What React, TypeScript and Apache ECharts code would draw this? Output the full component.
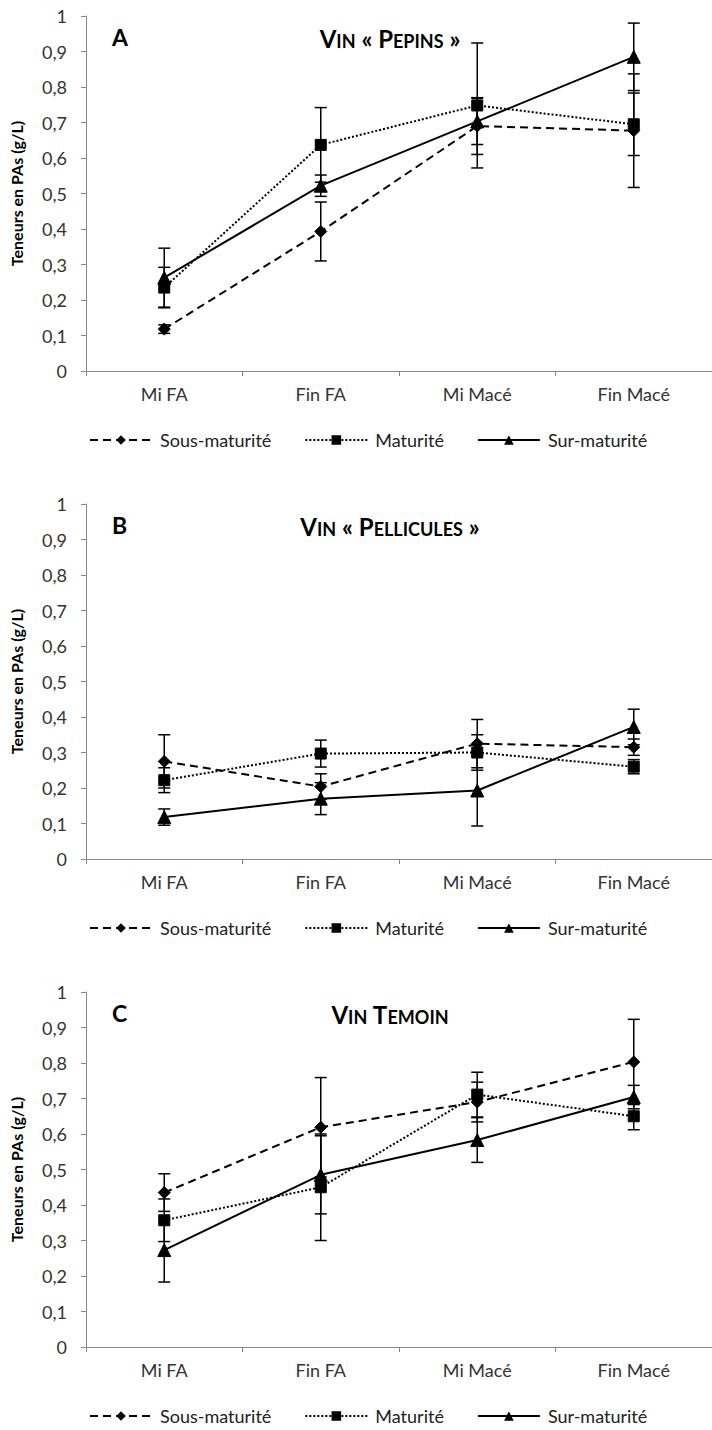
import React, { useEffect, useRef } from 'react';
import * as echarts from 'echarts';

const categories = ['Mi FA', 'Fin FA', 'Mi Macé', 'Fin Macé'];
const seriesNames = ['Sous-maturité', 'Maturité', 'Sur-maturité'];

// Panel A — Vin « Pepins »
const pepinsSous = [0.118, 0.393, 0.69, 0.677];
const pepinsSousErr = [0.012, 0.083, 0.08, 0.16];
const pepinsMat = [0.235, 0.637, 0.748, 0.695];
const pepinsMatErr = [0.057, 0.105, 0.176, 0.088];
const pepinsSur = [0.263, 0.522, 0.703, 0.885];
const pepinsSurErr = [0.083, 0.03, 0.065, 0.095];

// Panel B — Vin « Pellicules »
const pellSous = [0.275, 0.204, 0.325, 0.315];
const pellSousErr = [0.075, 0.036, 0.068, 0.023];
const pellMat = [0.222, 0.297, 0.3, 0.26];
const pellMatErr = [0.035, 0.038, 0.05, 0.02];
const pellSur = [0.118, 0.17, 0.193, 0.372];
const pellSurErr = [0.023, 0.045, 0.1, 0.05];

// Panel C — Vin Temoin
const temSous = [0.435, 0.619, 0.69, 0.803];
const temSousErr = [0.053, 0.14, 0.056, 0.12];
const temMat = [0.357, 0.45, 0.711, 0.65];
const temMatErr = [0.06, 0.15, 0.063, 0.038];
const temSur = [0.273, 0.485, 0.583, 0.704];
const temSurErr = [0.09, 0.11, 0.063, 0.033];

const panelLetters = ['A', 'B', 'C'];
const panelTitles = [
  '{b|V}{s|IN}{b| « P}{s|EPINS}{b| »}',
  '{b|V}{s|IN}{b| « P}{s|ELLICULES}{b| »}',
  '{b|V}{s|IN}{b| T}{s|EMOIN}',
];

const panelData = [
  [[pepinsSous, pepinsSousErr], [pepinsMat, pepinsMatErr], [pepinsSur, pepinsSurErr]],
  [[pellSous, pellSousErr], [pellMat, pellMatErr], [pellSur, pellSurErr]],
  [[temSous, temSousErr], [temMat, temMatErr], [temSur, temSurErr]],
];

const FONT = 'Lato';
const gridTops = [16, 504, 992];
const gridHeight = 355;

const lineStyles: any[] = [
  { type: [8, 5], width: 2 },
  { type: [2, 2], width: 2 },
  { type: 'solid', width: 2 },
];
const symbols = ['diamond', 'rect', 'triangle'];
const symbolSizes = [12, 11, 13];

export default function App() {
  const ref = useRef<HTMLDivElement>(null);
  useEffect(() => {
    if (!ref.current) return;
    const chart = echarts.init(ref.current, null, { renderer: 'svg' });

    const grids: any[] = [];
    const xAxes: any[] = [];
    const yAxes: any[] = [];
    const series: any[] = [];
    const legends: any[] = [];
    const graphics: any[] = [];

    gridTops.forEach((top, p) => {
      grids.push({ left: 83, top, width: 634, height: gridHeight, containLabel: false });
      xAxes.push({
        type: 'category',
        gridIndex: p,
        data: categories,
        boundaryGap: true,
        axisLine: { lineStyle: { color: '#868686', width: 1 } },
        axisTick: { show: true, length: 5, lineStyle: { color: '#868686' } },
        axisLabel: { fontSize: 18, fontFamily: FONT, color: '#333', margin: 14 },
        splitLine: { show: false },
      });
      yAxes.push({
        type: 'value',
        gridIndex: p,
        min: 0,
        max: 1,
        interval: 0.1,
        name: 'Teneurs en PAs (g/L)',
        nameLocation: 'middle',
        nameRotate: 90,
        nameGap: 62,
        nameTextStyle: { fontSize: 16, fontWeight: 'bold', fontFamily: FONT, color: '#000' },
        axisLine: { show: true, lineStyle: { color: '#868686', width: 1 } },
        axisTick: { show: true, length: 5, lineStyle: { color: '#868686' } },
        axisLabel: {
          fontSize: 18,
          fontFamily: FONT,
          color: '#333',
          margin: 19,
          formatter: (v: number) => String(Number(v.toFixed(1))).replace('.', ','),
        },
        splitLine: { show: false },
      });

      panelData[p].forEach(([vals, errs], s) => {
        series.push({
          name: 'err-' + p + '-' + s,
          type: 'custom',
          xAxisIndex: p,
          yAxisIndex: p,
          z: 2,
          data: vals.map((v: number, i: number) => [i, v - errs[i], v + errs[i]]),
          encode: { x: 0, y: [1, 2] },
          renderItem: (params: any, api: any) => {
            const xi = api.value(0);
            const lo = api.coord([xi, api.value(1)]);
            const hi = api.coord([xi, api.value(2)]);
            const c = 6;
            const st = { stroke: '#000', lineWidth: 1.5 };
            return {
              type: 'group',
              children: [
                { type: 'line', shape: { x1: lo[0], y1: lo[1], x2: hi[0], y2: hi[1] }, style: st },
                { type: 'line', shape: { x1: lo[0] - c, y1: lo[1], x2: lo[0] + c, y2: lo[1] }, style: st },
                { type: 'line', shape: { x1: hi[0] - c, y1: hi[1], x2: hi[0] + c, y2: hi[1] }, style: st },
              ],
            };
          },
        });
        series.push({
          name: seriesNames[s],
          type: 'line',
          xAxisIndex: p,
          yAxisIndex: p,
          z: 3,
          data: vals,
          symbol: symbols[s],
          symbolSize: symbolSizes[s],
          showAllSymbol: true,
          lineStyle: { color: '#000', ...lineStyles[s] },
          itemStyle: { color: '#000', borderColor: '#000' },
        });
      });

      legends.push({
        top: top + gridHeight + 55,
        left: 84,
        orient: 'horizontal',
        data: seriesNames,
        itemWidth: 62,
        itemHeight: 12,
        itemGap: 33,
        selectedMode: false,
        textStyle: { fontSize: 18, fontFamily: FONT, color: '#222', padding: [0, 0, 0, 3] },
      });

      graphics.push({
        type: 'text',
        x: 112,
        y: top + 21,
        style: {
          text: panelLetters[p],
          font: 'bold 23px Lato',
          fill: '#000',
          align: 'left',
          verticalAlign: 'middle',
        },
      });
      graphics.push({
        type: 'text',
        x: 390,
        y: top + 20,
        style: {
          text: panelTitles[p],
          font: 'bold 24px Lato',
          fill: '#000',
          align: 'center',
          verticalAlign: 'middle',
          rich: {
            b: { fontSize: 24, fontWeight: 'bold', fontFamily: FONT, fill: '#000', lineHeight: 28, verticalAlign: 'bottom' },
            s: { fontSize: 18, fontWeight: 'bold', fontFamily: FONT, fill: '#000', lineHeight: 28, verticalAlign: 'bottom' },
          },
        },
      });
    });

    chart.setOption({
      animation: false,
      textStyle: { fontFamily: FONT },
      grid: grids,
      xAxis: xAxes,
      yAxis: yAxes,
      legend: legends,
      series,
      graphic: graphics,
    });
    return () => chart.dispose();
  }, []);

  return (
    <div
      ref={ref}
      style={{ position: 'absolute', left: 0, top: 0, width: 712, height: 1430, background: '#fff' }}
    />
  );
}
